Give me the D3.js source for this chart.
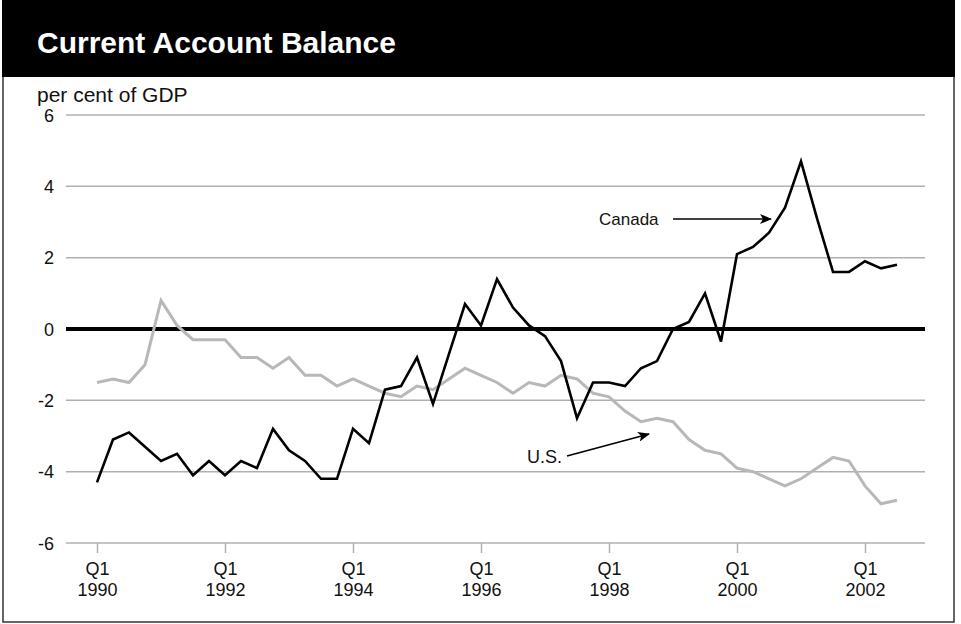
<!DOCTYPE html>
<html>
<head>
<meta charset="utf-8">
<script src="https://cdn.jsdelivr.net/npm/d3@7"></script>
<style>
  html, body { margin: 0; padding: 0; background: #fff; }
  svg { display: block; }
</style>
</head>
<body>
<svg id="chart" width="961" height="624"></svg>
<script>
// ---- data (quarterly, 1990Q1 .. 2002Q3) ----
const quarters = d3.range(0, 51); // quarter index from 1990 Q1
const canada = [-4.3,-3.1,-2.9,-3.3,-3.7,-3.5,-4.1,-3.7,-4.1,-3.7,
                -3.9,-2.8,-3.4,-3.7,-4.2,-4.2,-2.8,-3.2,-1.7,-1.6,
                -0.8,-2.1,-0.7,0.7,0.1,1.4,0.6,0.1,-0.2,-0.9,
                -2.5,-1.5,-1.5,-1.6,-1.1,-0.9,0.0,0.2,1.0,-0.35,
                2.1,2.3,2.7,3.4,4.7,3.1,1.6,1.6,1.9,1.7,1.8];
const us = [-1.5,-1.4,-1.5,-1.0,0.8,0.1,-0.3,-0.3,-0.3,-0.8,
            -0.8,-1.1,-0.8,-1.3,-1.3,-1.6,-1.4,-1.6,-1.8,-1.9,
            -1.6,-1.7,-1.4,-1.1,-1.3,-1.5,-1.8,-1.5,-1.6,-1.3,
            -1.4,-1.8,-1.9,-2.3,-2.6,-2.5,-2.6,-3.1,-3.4,-3.5,
            -3.9,-4.0,-4.2,-4.4,-4.2,-3.9,-3.6,-3.7,-4.4,-4.9,-4.8];
const yTicks = [-6,-4,-2,0,2,4,6];
const xTickQuarters = [0,8,16,24,32,40,48];
const xTickLabels = [["Q1","1990"],["Q1","1992"],["Q1","1994"],["Q1","1996"],["Q1","1998"],["Q1","2000"],["Q1","2002"]];
const title = "Current Account Balance";
const yUnit = "per cent of GDP";

const FONT = "Liberation Sans, Arial, Helvetica, sans-serif";
const svg = d3.select("#chart");

// frame + title band
svg.append("rect").attr("x", 3).attr("y", 0).attr("width", 951).attr("height", 622)
  .attr("fill", "#fff").attr("stroke", "#333").attr("stroke-width", 1.5);
svg.append("rect").attr("x", 2).attr("y", 0).attr("width", 953).attr("height", 77).attr("fill", "#000");
svg.append("text").attr("x", 37).attr("y", 53).text(title)
  .attr("fill", "#fff").attr("font-family", FONT)
  .attr("font-weight", "bold").attr("font-size", 30);

svg.append("text").attr("x", 37).attr("y", 102).text(yUnit)
  .attr("fill", "#111").attr("font-family", FONT)
  .attr("font-size", 21);

// scales
const x = d3.scaleLinear().domain([0, 50]).range([97, 897]);
const y = d3.scaleLinear().domain([-6, 6]).range([543, 115]);
const gridX0 = 66, gridX1 = 925;

// gridlines
svg.append("g").selectAll("line").data(yTicks.filter(d => d !== 0)).join("line")
  .attr("x1", gridX0).attr("x2", gridX1)
  .attr("y1", d => y(d)).attr("y2", d => y(d))
  .attr("stroke", "#b0b0b0").attr("stroke-width", 1.5);

// y axis labels
const yAxis = d3.axisLeft(y).tickValues(yTicks).tickSize(0).tickPadding(0).tickFormat(d => String(d));
const gy = svg.append("g").attr("transform", "translate(54,0)").call(yAxis);
gy.select(".domain").remove();
gy.selectAll("text").attr("font-family", FONT)
  .attr("font-size", 18).attr("fill", "#111").attr("dy", "0.35em");

// x axis ticks
const xAxis = d3.axisBottom(x).tickValues(xTickQuarters).tickSize(10).tickFormat("");
const gx = svg.append("g").attr("transform", `translate(0,${y(-6)})`).call(xAxis);
gx.select(".domain").remove();
gx.selectAll(".tick line").attr("stroke", "#b0b0b0").attr("stroke-width", 1.5);
gx.selectAll(".tick").each(function(d, i) {
  const g = d3.select(this);
  g.append("text").attr("text-anchor", "middle").attr("fill", "#111")
    .attr("font-family", FONT).attr("font-size", 18)
    .attr("x", 0).attr("y", 32).text(xTickLabels[i][0]);
  g.append("text").attr("text-anchor", "middle").attr("fill", "#111")
    .attr("font-family", FONT).attr("font-size", 18)
    .attr("x", 0).attr("y", 53).text(xTickLabels[i][1]);
});

// zero line
svg.append("line").attr("x1", gridX0).attr("x2", gridX1)
  .attr("y1", y(0)).attr("y2", y(0)).attr("stroke", "#000").attr("stroke-width", 4);

// series
const line = d3.line().x((d, i) => x(quarters[i])).y(d => y(d));
svg.append("path").datum(us).attr("d", line).attr("fill", "none")
  .attr("stroke", "#b8b8b8").attr("stroke-width", 3).attr("stroke-linejoin", "miter");
svg.append("path").datum(canada).attr("d", line).attr("fill", "none")
  .attr("stroke", "#000").attr("stroke-width", 2.6).attr("stroke-linejoin", "miter");

// arrow marker
const defs = svg.append("defs");
defs.append("marker").attr("id", "arr").attr("viewBox", "0 0 12 10")
  .attr("refX", 11).attr("refY", 5).attr("markerWidth", 12).attr("markerHeight", 10)
  .attr("markerUnits", "userSpaceOnUse").attr("orient", "auto")
  .append("path").attr("d", "M0,0 L12,5 L0,10 L3,5 Z").attr("fill", "#000");

// annotations
svg.append("text").attr("x", 599).attr("y", 225).text("Canada")
  .attr("font-family", FONT).attr("font-size", 17).attr("fill", "#111");
svg.append("line").attr("x1", 673).attr("y1", 219).attr("x2", 771).attr("y2", 219)
  .attr("stroke", "#000").attr("stroke-width", 1.5).attr("marker-end", "url(#arr)");

svg.append("text").attr("x", 527).attr("y", 463).text("U.S.")
  .attr("font-family", FONT).attr("font-size", 18).attr("fill", "#111");
svg.append("line").attr("x1", 567).attr("y1", 456).attr("x2", 649).attr("y2", 434)
  .attr("stroke", "#000").attr("stroke-width", 1.5).attr("marker-end", "url(#arr)");
</script>
</body>
</html>
